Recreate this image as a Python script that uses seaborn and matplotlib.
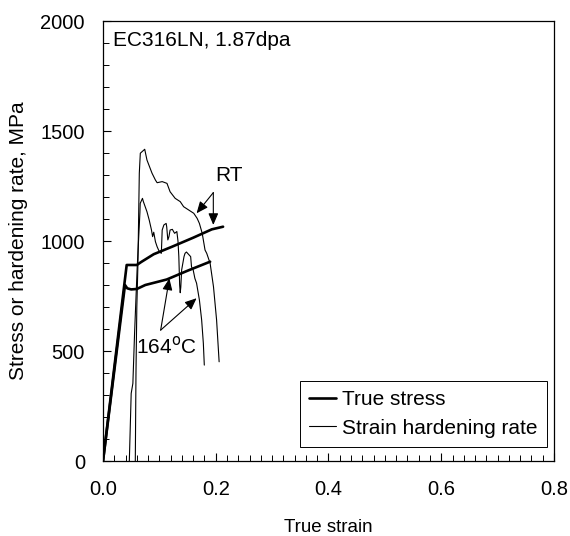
import matplotlib
matplotlib.use("Agg")
import matplotlib.pyplot as plt
import seaborn as sns
import numpy as np
from matplotlib.ticker import MultipleLocator

# ---- data ----
rt_stress_x = [0.0, 0.042, 0.060, 0.068, 0.090, 0.1224, 0.160, 0.193, 0.213]
rt_stress_y = [0, 891, 891, 905, 940, 974, 1015, 1053, 1065]

t164_stress_x = [0.0, 0.039, 0.043, 0.050, 0.060, 0.075, 0.113, 0.150, 0.190]
t164_stress_y = [0, 800, 785, 780, 782, 800, 825, 865, 906]

rt_hard_x = [0.0573, 0.0585, 0.0600, 0.062, 0.0644, 0.0662, 0.074, 0.078, 0.087, 0.093,
             0.096, 0.105, 0.1135, 0.119, 0.128, 0.137, 0.143, 0.152, 0.161, 0.167,
             0.171, 0.176, 0.181, 0.184, 0.190, 0.196, 0.2015, 0.206]
rt_hard_y = [0, 400, 700, 900, 1308, 1399, 1417, 1368, 1308, 1277,
             1265, 1270, 1262, 1224, 1194, 1179, 1156, 1141, 1126, 1103,
             1080, 1035, 959, 944, 899, 792, 641, 451]

t164_hard_x = [0.0467, 0.050, 0.053, 0.056, 0.0605, 0.0655, 0.066, 0.070, 0.0715, 0.078,
               0.082, 0.086, 0.088, 0.090, 0.093, 0.096, 0.100, 0.1035, 0.105, 0.108,
               0.112, 0.113, 0.115, 0.117, 0.119, 0.123, 0.127, 0.131, 0.133, 0.1345,
               0.136, 0.137, 0.138, 0.1395, 0.1437, 0.1455, 0.148, 0.1555, 0.157, 0.160,
               0.163, 0.166, 0.171, 0.175, 0.178, 0.1797]
t164_hard_y = [0, 307, 353, 580, 870, 1130, 1171, 1194, 1180, 1133,
               1095, 1050, 1020, 1040, 997, 974, 951, 944, 1050, 1073,
               1080, 1065, 1005, 1020, 1050, 1053, 1035, 1043, 1000, 930,
               800, 765, 790, 868, 929, 944, 950, 929, 883, 868,
               830, 808, 732, 641, 535, 436]

x_ticks = [0.0, 0.2, 0.4, 0.6, 0.8]
y_ticks = [0, 500, 1000, 1500, 2000]

# ---- style ----
sns.set_style("ticks")
plt.rcParams['font.family'] = ['Liberation Sans', 'DejaVu Sans']
plt.rcParams['text.color'] = 'black'
plt.rcParams['axes.labelcolor'] = 'black'
plt.rcParams['xtick.color'] = 'black'
plt.rcParams['ytick.color'] = 'black'

fig = plt.figure(figsize=(5.70, 5.36), dpi=100)
ax = fig.add_axes([0.1807, 0.1399, 0.7912, 0.8209])

thick = 1.9
thin = 0.8
sns.lineplot(x=rt_stress_x, y=rt_stress_y, ax=ax, color="black", lw=thick,
             sort=False, estimator=None, label="True stress")
sns.lineplot(x=rt_hard_x, y=rt_hard_y, ax=ax, color="black", lw=thin,
             sort=False, estimator=None, label="Strain hardening rate")
sns.lineplot(x=t164_stress_x, y=t164_stress_y, ax=ax, color="black", lw=thick,
             sort=False, estimator=None)
sns.lineplot(x=t164_hard_x, y=t164_hard_y, ax=ax, color="black", lw=thin,
             sort=False, estimator=None)

ax.set_xlim(0, 0.8)
ax.set_ylim(0, 2000)
ax.set_xticks(x_ticks)
ax.set_xticklabels([f"{v:.1f}" for v in x_ticks])
ax.set_yticks(y_ticks)
ax.set_yticklabels([str(v) for v in y_ticks])
ax.xaxis.set_minor_locator(MultipleLocator(0.02))
ax.yaxis.set_minor_locator(MultipleLocator(100))
ax.tick_params(axis="both", which="major", direction="in", length=6, width=0.8,
               labelsize=14.5, top=False, right=False, colors="black")
ax.tick_params(axis="x", which="major", pad=14)
ax.tick_params(axis="y", which="major", pad=13)
ax.tick_params(axis="both", which="minor", direction="in", length=4, width=0.7,
               top=False, right=False, colors="black")
for s in ax.spines.values():
    s.set_visible(True)
    s.set_linewidth(0.9)
    s.set_color("black")

ax.set_xlabel("True strain", fontsize=13.5, labelpad=14, color="black")
ax.set_ylabel("Stress or hardening rate, MPa", fontsize=15, labelpad=9, color="black")

ax.text(0.0183, 1910, "EC316LN, 1.87dpa", fontsize=15, va="center", ha="left", color="black")

# RT annotation
ax.text(0.224, 1300, "RT", fontsize=15, ha="center", va="center", color="black")
arrowprops = dict(arrowstyle="-|>,head_length=0.7,head_width=0.3", color="black", lw=0.8,
                  shrinkA=0, shrinkB=0)
ax.annotate("", xy=(0.166, 1126), xytext=(0.1957, 1220), arrowprops=arrowprops)
ax.annotate("", xy=(0.1957, 1073), xytext=(0.1957, 1220), arrowprops=arrowprops)

# 164 C annotation
ax.text(0.1118, 523, "164$^{\\mathrm{o}}$C", fontsize=15, ha="center", va="center", color="black")
ax.annotate("", xy=(0.1177, 830), xytext=(0.1023, 595), arrowprops=arrowprops)
ax.annotate("", xy=(0.166, 740), xytext=(0.1023, 595), arrowprops=arrowprops)

leg = ax.legend(loc="lower right", bbox_to_anchor=(0.985, 0.032), fontsize=15,
                frameon=True, fancybox=False, edgecolor="black", framealpha=1,
                handlelength=1.3, handletextpad=0.3, borderpad=0.45, labelspacing=0.45,
                borderaxespad=0)
leg.get_frame().set_linewidth(0.7)
for t in leg.get_texts():
    t.set_color("black")

fig.savefig("out.png", dpi=100)
